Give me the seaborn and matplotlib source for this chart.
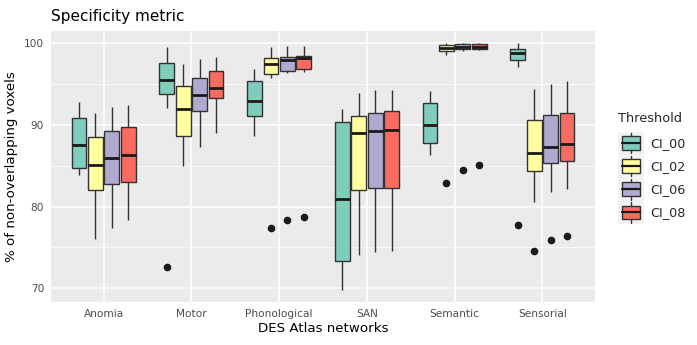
import numpy as np
import pandas as pd
import seaborn as sns
import matplotlib
matplotlib.use("Agg")
import matplotlib.pyplot as plt
from matplotlib.patches import Rectangle, Patch
from matplotlib.lines import Line2D
from matplotlib.legend_handler import HandlerBase

networks = ["Anomia", "Motor", "Phonological", "SAN", "Semantic", "Sensorial"]
thresholds = ["CI_00", "CI_02", "CI_06", "CI_08"]

# Box statistics, per threshold (one value per network)
whisker_lo = {
    "CI_00": [83.9, 92.1, 88.6, 69.8, 86.3, 97.1],
    "CI_02": [76.0, 85.0, 95.8, 74.0, 98.6, 80.6],
    "CI_06": [77.4, 87.3, 96.3, 74.4, 99.1, 81.8],
    "CI_08": [78.3, 89.0, 96.5, 74.5, 99.2, 82.2],
}
q1 = {
    "CI_00": [84.7, 93.8, 91.1, 73.3, 87.8, 97.95],
    "CI_02": [82.05, 88.7, 96.24, 82.05, 99.1, 84.3],
    "CI_06": [82.8, 91.75, 96.6, 82.3, 99.3, 85.3],
    "CI_08": [83.0, 93.3, 96.8, 82.33, 99.34, 85.6],
}
median = {
    "CI_00": [87.55, 95.5, 92.9, 80.95, 89.95, 98.75],
    "CI_02": [85.05, 91.9, 97.47, 89.0, 99.47, 86.6],
    "CI_06": [85.95, 93.65, 97.96, 89.25, 99.6, 87.35],
    "CI_08": [86.35, 94.5, 98.16, 89.4, 99.5, 87.65],
}
q3 = {
    "CI_00": [90.9, 97.55, 95.35, 90.3, 92.7, 99.3],
    "CI_02": [88.5, 94.75, 98.16, 91.15, 99.8, 90.6],
    "CI_06": [89.3, 95.8, 98.3, 91.5, 99.91, 91.2],
    "CI_08": [89.7, 96.55, 98.4, 91.75, 99.91, 91.45],
}
whisker_hi = {
    "CI_00": [92.8, 99.6, 96.8, 91.9, 94.1, 100.0],
    "CI_02": [91.5, 97.5, 99.6, 93.95, 100.0, 94.45],
    "CI_06": [92.2, 98.05, 99.7, 94.25, 100.0, 95.05],
    "CI_08": [92.45, 98.3, 99.7, 94.3, 100.0, 95.35],
}
outlier = {
    "CI_00": [None, 72.6, None, None, None, 77.7],
    "CI_02": [None, None, 77.35, None, 82.85, 74.6],
    "CI_06": [None, None, 78.3, None, 84.5, 75.85],
    "CI_08": [None, None, 78.75, None, 85.1, 76.4],
}

colors = ["#7FCDBB", "#FFFFA0", "#B0AAD0", "#F96A60"]

rows = []
for t in thresholds:
    for i, n in enumerate(networks):
        lo, a, m, b, hi, o = (whisker_lo[t][i], q1[t][i], median[t][i],
                              q3[t][i], whisker_hi[t][i], outlier[t][i])
        first = lo if o is None else o
        vals = [first, lo, a, m, m, m, b, hi, hi]
        for v in vals:
            rows.append({"network": n, "threshold": t, "value": v})
df = pd.DataFrame(rows)

sns.set_theme(style="white")
plt.rcParams["font.family"] = ["DejaVu Sans"]

fig = plt.figure(figsize=(6.97, 3.45), dpi=100)
ax = fig.add_axes([0.0732, 0.1246, 0.7805, 0.7854])
ax.set_facecolor("#EBEBEB")

sns.boxplot(data=df, x="network", y="value", hue="threshold",
            order=networks, hue_order=thresholds, palette=colors,
            width=0.75, gap=0.1, linewidth=1.0, linecolor="#333333",
            showcaps=False, saturation=1,
            medianprops=dict(color="#1A1A1A", linewidth=2.0),
            flierprops=dict(marker="o", markerfacecolor="#1A1A1A",
                            markeredgecolor="#1A1A1A", markersize=4.5),
            ax=ax, legend=False)

ax.set_xlim(-0.6, 5.6)
ax.set_ylim(68.3, 101.5)
ax.set_yticks([70, 80, 90, 100])
ax.set_yticks([75, 85, 95], minor=True)
ax.grid(True, which="major", color="white", linewidth=1.1)
ax.grid(True, which="minor", axis="y", color="white", linewidth=0.55)
ax.set_axisbelow(True)
for s in ax.spines.values():
    s.set_visible(False)
ax.tick_params(axis="both", which="major", length=3, width=0.8, color="#333333",
               labelcolor="#4D4D4D", labelsize=7.6, pad=2)
ax.tick_params(axis="y", which="minor", length=0)
ax.set_xlabel("DES Atlas networks", fontsize=9.6, color="black", labelpad=2)
ax.set_ylabel("% of non-overlapping voxels", fontsize=9.6, color="black", labelpad=4)
ax.set_title("Specificity metric", loc="left", fontsize=11, color="black", pad=7)


class BoxKeyHandler(HandlerBase):
    def create_artists(self, legend, orig_handle, xdescent, ydescent,
                       width, height, fontsize, trans):
        fc = orig_handle.get_facecolor()
        bg = Rectangle((-xdescent, -ydescent), width, height,
                       facecolor="#F2F2F2", edgecolor="none", transform=trans)
        bx = Rectangle((-xdescent + 0.14 * width, -ydescent + 0.2 * height),
                       0.72 * width, 0.6 * height, facecolor=fc,
                       edgecolor="#333333", linewidth=1.0, transform=trans)
        xm = -xdescent + width / 2
        wl1 = Line2D([xm, xm], [-ydescent + 0.06 * height, -ydescent + 0.2 * height],
                     color="#333333", linewidth=1.0, transform=trans)
        wl2 = Line2D([xm, xm], [-ydescent + 0.8 * height, -ydescent + 0.94 * height],
                     color="#333333", linewidth=1.0, transform=trans)
        med = Line2D([-xdescent + 0.14 * width, -xdescent + 0.86 * width],
                     [-ydescent + 0.5 * height] * 2, color="#1A1A1A",
                     linewidth=1.6, transform=trans)
        return [bg, bx, wl1, wl2, med]


handles = [Patch(facecolor=c) for c in colors]
leg = fig.legend(handles, thresholds, title="Threshold",
                 handler_map={Patch: BoxKeyHandler()},
                 loc="upper left", bbox_to_anchor=(0.8867, 0.676),
                 frameon=False, fontsize=9.2, title_fontsize=9.3,
                 handlelength=2.0, handleheight=2.4, handletextpad=0.55,
                 labelspacing=0.0, borderpad=0.0, borderaxespad=0.0)
leg._legend_box.align = "left"
leg._legend_box.sep = 5

fig.savefig("out.png", dpi=100)
